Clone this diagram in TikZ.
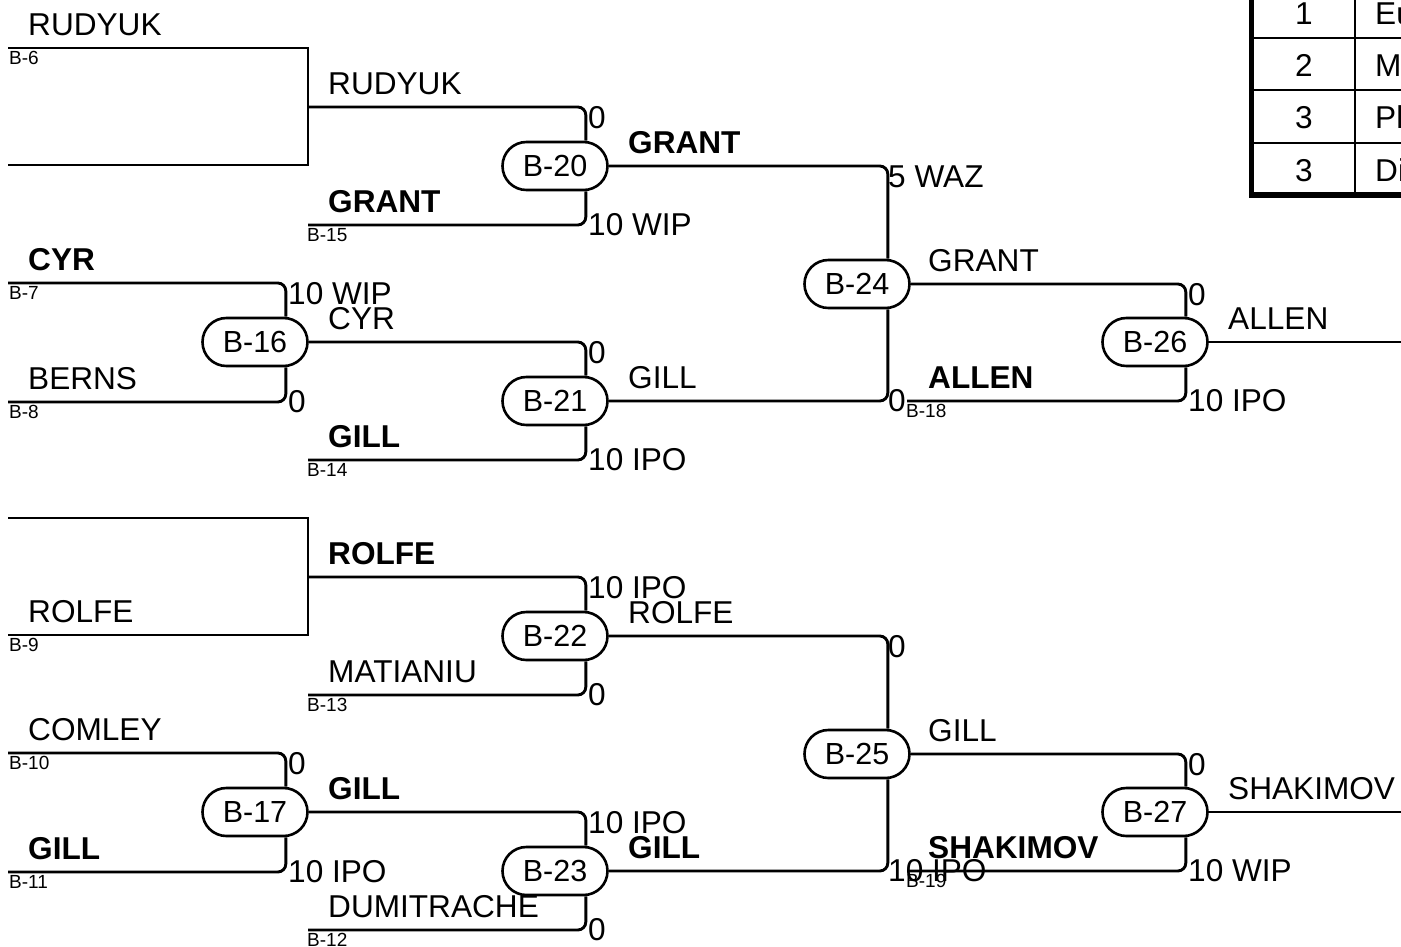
\documentclass[tikz,border=0pt]{standalone}
\usepackage{fontspec}
\setmainfont{Liberation Sans}
\usetikzlibrary{calc}
\tikzset{
  ln/.style={line width=2.9pt, rounded corners=8pt},
  sq/.style={line width=2.9pt},
  match/.style={draw, line width=2.6pt, rounded corners=23.9pt, minimum width=105pt, minimum height=48pt, inner sep=0pt, font=\fontsize{30.5}{36}\selectfont},
  nm/.style={anchor=base west, inner sep=0pt, font=\fontsize{31.6}{37}\selectfont},
  bn/.style={anchor=base west, inner sep=0pt, font=\fontsize{31.6}{37}\selectfont\bfseries},
  sc/.style={anchor=base west, inner sep=0pt, font=\fontsize{31.6}{37}\selectfont},
  lb/.style={anchor=north west, inner sep=0pt, font=\fontsize{19}{22}\selectfont},
  tb/.style={anchor=base, inner sep=0pt, font=\fontsize{31.6}{37}\selectfont},
  tbl/.style={anchor=base west, inner sep=0pt, font=\fontsize{31.6}{37}\selectfont},
}
\begin{document}
\begin{tikzpicture}[x=1pt,y=-1pt]
\useasboundingbox (0,0) rectangle (1401,946);

% ---------- match nodes ----------
\node[match] (b20) at (555,166) {B-20};
\node[match] (b21) at (555,401) {B-21};
\node[match] (b16) at (255,342) {B-16};
\node[match] (b24) at (857,284) {B-24};
\node[match] (b26) at (1155,342) {B-26};
\node[match] (b22) at (555,636) {B-22};
\node[match] (b23) at (555,871) {B-23};
\node[match] (b17) at (255,812) {B-17};
\node[match] (b25) at (857,754) {B-25};
\node[match] (b27) at (1155,812) {B-27};

% ---------- free ends ----------
\coordinate (a6) at (8,48);
\coordinate (c6) at (308,165);
\coordinate (d6) at (8,165);
\coordinate (m6) at (308,107);
\coordinate (e15) at (308,225);
\coordinate (e7) at (8,283);
\coordinate (e8) at (8,402);
\coordinate (e14) at (308,460);
\coordinate (e18) at (907,401);
\coordinate (o26) at (1420,342);

\coordinate (a9) at (8,518);
\coordinate (c9) at (308,635);
\coordinate (d9) at (8,635);
\coordinate (m9) at (308,577);
\coordinate (e13) at (308,695);
\coordinate (e10) at (8,753);
\coordinate (e11) at (8,872);
\coordinate (e12) at (308,930);
\coordinate (e19) at (907,871);
\coordinate (o27) at (1420,812);

% ---------- connectors, top half ----------
\draw[sq] (a6) -| (c6) -- (d6);
\draw[ln] (m6) -| ($(b20.north east)+(-23,0)$);
\draw[ln] (e15) -| ($(b20.south east)+(-23,0)$);
\draw[ln] (e7) -| ($(b16.north east)+(-23,0)$);
\draw[ln] (e8) -| ($(b16.south east)+(-23,0)$);
\draw[ln] (b16.east) -| ($(b21.north east)+(-23,0)$);
\draw[ln] (e14) -| ($(b21.south east)+(-23,0)$);
\draw[ln] (b20.east) -| ($(b24.north east)+(-23,0)$);
\draw[ln] (b21.east) -| ($(b24.south east)+(-23,0)$);
\draw[ln] (b24.east) -| ($(b26.north east)+(-23,0)$);
\draw[ln] (e18) -| ($(b26.south east)+(-23,0)$);
\draw[ln] (b26.east) -- (o26);

% ---------- connectors, bottom half ----------
\draw[sq] (a9) -| (c9) -- (d9);
\draw[ln] (m9) -| ($(b22.north east)+(-23,0)$);
\draw[ln] (e13) -| ($(b22.south east)+(-23,0)$);
\draw[ln] (e10) -| ($(b17.north east)+(-23,0)$);
\draw[ln] (e11) -| ($(b17.south east)+(-23,0)$);
\draw[ln] (b17.east) -| ($(b23.north east)+(-23,0)$);
\draw[ln] (e12) -| ($(b23.south east)+(-23,0)$);
\draw[ln] (b22.east) -| ($(b25.north east)+(-23,0)$);
\draw[ln] (b23.east) -| ($(b25.south east)+(-23,0)$);
\draw[ln] (b25.east) -| ($(b27.north east)+(-23,0)$);
\draw[ln] (e19) -| ($(b27.south east)+(-23,0)$);
\draw[ln] (b27.east) -- (o27);

% ---------- texts, top half ----------
\node[nm] (t01) at (28,35.5) {RUDYUK};
\node[lb] (l06) at (9,51) {B-6};
\node[nm] (t02) at (328,94.5) {RUDYUK};
\node[sc] (s01) at (588,128) {0};
\node[bn] (t03) at (328,212.5) {GRANT};
\node[lb] (l15) at (307,228) {B-15};
\node[sc] (s02) at (588,235.5) {10 WIP};
\node[bn] (t04) at (628,153.5) {GRANT};
\node[sc] (s03) at (888,187) {5 WAZ};
\node[bn] (t05) at (28,270.5) {CYR};
\node[lb] (l07) at (9,286) {B-7};
\node[sc] (s04) at (288,304) {10 WIP};
\node[nm] (t06) at (328,329.5) {CYR};
\node[nm] (t07) at (28,389.5) {BERNS};
\node[lb] (l08) at (9,405) {B-8};
\node[sc] (s05) at (288,412.5) {0};
\node[sc] (s06) at (588,363) {0};
\node[nm] (t08) at (628,388.5) {GILL};
\node[bn] (t09) at (328,447.5) {GILL};
\node[lb] (l14) at (307,463) {B-14};
\node[sc] (s07) at (588,470.5) {10 IPO};
\node[nm] (t10) at (928,271.5) {GRANT};
\node[sc] (s08) at (888,411.5) {0};
\node[bn] (t11) at (928,388.5) {ALLEN};
\node[lb] (l18) at (906,404) {B-18};
\node[sc] (s09) at (1188,305) {0};
\node[nm] (t12) at (1228,329.5) {ALLEN};
\node[sc] (s10) at (1188,411.5) {10 IPO};

% ---------- texts, bottom half ----------
\node[nm] (t13) at (28,622.5) {ROLFE};
\node[lb] (l09) at (9,638) {B-9};
\node[bn] (t14) at (328,564.5) {ROLFE};
\node[sc] (s11) at (588,598) {10 IPO};
\node[nm] (t15) at (328,682.5) {MATIANIU};
\node[lb] (l13) at (307,698) {B-13};
\node[sc] (s12) at (588,705.5) {0};
\node[nm] (t16) at (628,623.5) {ROLFE};
\node[sc] (s13) at (888,657) {0};
\node[nm] (t17) at (28,740.5) {COMLEY};
\node[lb] (l10) at (9,756) {B-10};
\node[sc] (s14) at (288,774) {0};
\node[bn] (t18) at (328,799.5) {GILL};
\node[bn] (t19) at (28,859.5) {GILL};
\node[lb] (l11) at (9,875) {B-11};
\node[sc] (s15) at (288,882.5) {10 IPO};
\node[sc] (s16) at (588,833) {10 IPO};
\node[bn] (t20) at (628,858.5) {GILL};
\node[nm] (t21) at (328,917.5) {DUMITRACHE};
\node[lb] (l12) at (307,933) {B-12};
\node[sc] (s17) at (588,940.5) {0};
\node[nm] (t22) at (928,741.5) {GILL};
\node[sc] (s18) at (888,881.5) {10 IPO};
\node[bn] (t23) at (928,858.5) {SHAKIMOV};
\node[lb] (l19) at (906,874) {B-19};
\node[sc] (s19) at (1188,775) {0};
\node[nm] (t24) at (1228,799.5) {SHAKIMOV};
\node[sc] (s20) at (1188,881.5) {10 WIP};

% ---------- table (top right) ----------
\draw[line width=2pt] (1252,38) -- (1440,38);
\draw[line width=2pt] (1252,90) -- (1440,90);
\draw[line width=2pt] (1252,143) -- (1440,143);
\draw[line width=2pt] (1355,-30) -- (1355,195);
\draw[line width=5.5pt] (1251.5,-30) |- (1440,195);
\node[tb] (r1) at (1304,24) {1};
\node[tb] (r2) at (1304,76) {2};
\node[tb] (r3) at (1304,128) {3};
\node[tb] (r4) at (1304,181) {3};
\node[tbl] (q1) at (1375,24) {Eu};
\node[tbl] (q2) at (1375,76) {M};
\node[tbl] (q3) at (1375,128) {Pl};
\node[tbl] (q4) at (1375,181) {Di};
\end{tikzpicture}
\end{document}
